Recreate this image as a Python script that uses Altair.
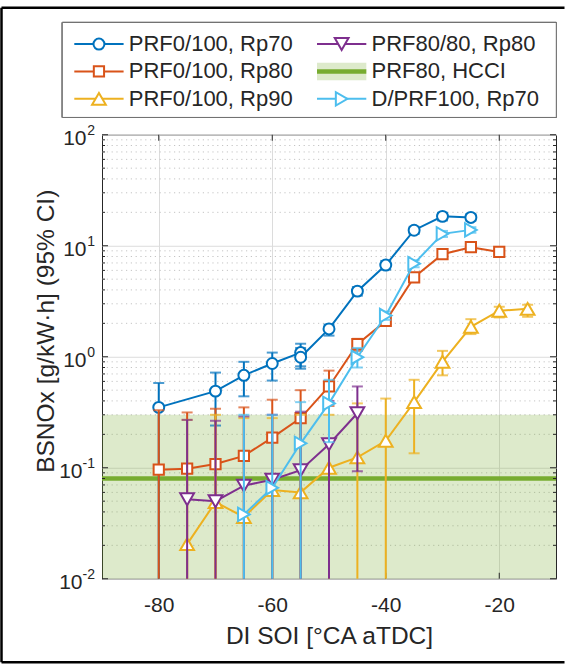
import altair as alt
import pandas as pd

# ---------------- data ----------------
SERIES = ["PRF0/100, Rp70", "PRF0/100, Rp80", "PRF0/100, Rp90",
          "PRF80/80, Rp80", "PRF80, HCCI", "D/PRF100, Rp70"]

RP70_X = [-80, -70, -65, -60, -55, -55, -50, -45, -40, -35, -30, -25]
RP70_Y = [0.35, 0.49, 0.68, 0.87, 1.09, 0.99, 1.78, 3.9, 6.7, 13.8, 18.4, 18.0]
RP70_LO = [None, 0.24, 0.44, 0.61, 0.78, 0.82, 1.55, 3.55, 6.1, 12.8, 16.9, 16.8]
RP70_HI = [0.58, 0.72, 0.90, 1.09, 1.31, 1.20, 1.95, 4.25, 7.3, 14.8, 19.8, 19.3]

RP80_X = [-80, -75, -70, -65, -60, -55, -50, -45, -40, -35, -30, -25, -20]
RP80_Y = [0.096, 0.098, 0.108, 0.128, 0.187, 0.28, 0.54, 1.3, 2.1, 5.2, 8.4, 9.7, 8.8]
RP80_LO = [None, None, None, None, None, None, 0.36, 1.13, 1.95, 4.9, 8.0, 9.3, 8.4]
RP80_HI = [0.33, 0.315, 0.34, 0.35, 0.41, 0.50, 0.75, 1.45, 2.3, 5.5, 8.8, 10.2, 9.2]

RP90_X = [-75, -70, -65, -60, -55, -50, -45, -40, -35, -30, -25, -20, -15]
RP90_Y = [0.0205, 0.049, 0.036, 0.063, 0.060, 0.10, 0.124, 0.175, 0.39, 0.90, 1.86, 2.6, 2.7]
RP90_LO = [None, None, None, None, None, None, None, None, 0.135, 0.68, 1.6, 2.26, 2.29]
RP90_HI = [0.27, 0.30, 0.28, 0.28, 0.30, 0.30, 0.38, 0.42, 0.62, 1.13, 2.18, 2.82, 2.94]

PRF80_X = [-75, -70, -65, -60, -55, -50, -45]
PRF80_Y = [0.052, 0.050, 0.069, 0.078, 0.095, 0.163, 0.31]
PRF80_LO = [None, None, None, None, None, None, 0.093]
PRF80_HI = [0.27, 0.265, 0.29, 0.30, 0.32, 0.40, 0.54]

DPRF_X = [-65, -60, -55, -50, -45, -40, -35, -30, -25]
DPRF_Y = [0.038, 0.066, 0.166, 0.38, 0.99, 2.35, 6.9, 12.8, 13.9]
DPRF_LO = [None, None, None, 0.17, 0.80, 2.15, 6.4, 12.0, 13.1]
DPRF_HI = [0.30, 0.30, 0.39, 0.62, 1.2, 2.55, 7.4, 13.6, 14.7]

HCCI_VALUE = 0.08
HCCI_UPPER = 0.30

X_TICKS = [-80, -60, -40, -20]
Y_DECADES = [0.01, 0.1, 1, 10, 100]
Y_EXPONENTS = ["-2", "-1", "0", "1", "2"]

X_DOMAIN = [-90, -10]
Y_DOMAIN = [0.01, 100]

# ---------------- styling ----------------
W, H = 454, 444
TXT = "#262626"
FONT = "Liberation Sans"
COLORS = {
    "PRF0/100, Rp70": "#0072BD",
    "PRF0/100, Rp80": "#D95319",
    "PRF0/100, Rp90": "#EDB120",
    "PRF80/80, Rp80": "#7E2F8E",
    "PRF80, HCCI": "#77AC30",
    "D/PRF100, Rp70": "#4DBEEE",
}
SHAPES = {
    "PRF0/100, Rp70": ("circle", 120),
    "PRF0/100, Rp80": ("square", 105),
    "PRF0/100, Rp90": ("triangle-up", 190),
    "PRF80/80, Rp80": ("triangle-down", 190),
    "D/PRF100, Rp70": ("triangle-right", 180),
}

xs = alt.Scale(domain=X_DOMAIN, nice=False, zero=False)
ys = alt.Scale(type="log", domain=Y_DOMAIN, nice=False)

x_axis = alt.Axis(values=X_TICKS, title="DI SOI [°CA aTDC]", grid=True,
                  gridColor="#dcdcdc", gridWidth=1, ticks=False, tickSize=0,
                  domain=False, labelFontSize=21, labelColor=TXT, labelFont=FONT,
                  labelPadding=16,
                  labelExpr="datum.value < 0 ? '-' + abs(datum.value) : '' + datum.value",
                  titleFontSize=24.5, titleFont=FONT,
                  titleFontWeight="normal", titleColor=TXT,
                  titleBaseline="alphabetic", titleY=65)
y_axis = alt.Axis(values=Y_DECADES, labels=False, ticks=False, tickSize=0,
                  domain=False, grid=True, gridColor="#dcdcdc", gridWidth=1,
                  title="BSNOx [g/kW·h] (95% CI)", titleFontSize=24.5,
                  titleFont=FONT, titleFontWeight="normal", titleColor=TXT,
                  titleX=-49, titleY=196, titleAlign="center",
                  titleBaseline="alphabetic", titleAngle=270)


def X(field="x"):
    return alt.X(f"{field}:Q", scale=xs, axis=x_axis)


def Y(field="y"):
    return alt.Y(f"{field}:Q", scale=ys, axis=y_axis)


layers = []

# minor dotted grid (log minor positions)
minor_vals = [k * d for d in [0.01, 0.1, 1, 10] for k in range(2, 10)]
minor_df = pd.DataFrame({"v": minor_vals})
layers.append(alt.Chart(minor_df).mark_rule(color="#c4c4c4", strokeWidth=1,
                                              strokeDash=[1.2, 3.6]).encode(
    y=Y("v"), x=alt.value(0), x2=alt.value(W)))

# HCCI band + line
band_df = pd.DataFrame({"x": [X_DOMAIN[0]], "x2": [X_DOMAIN[1]],
                        "lo": [Y_DOMAIN[0]], "hi": [HCCI_UPPER], "v": [HCCI_VALUE]})
layers.append(alt.Chart(band_df).mark_rect(color=COLORS["PRF80, HCCI"], opacity=0.25).encode(
    x=X("x"), x2="x2:Q", y=Y("lo"), y2="hi:Q"))
layers.append(alt.Chart(band_df).mark_rule(color=COLORS["PRF80, HCCI"], strokeWidth=4.5).encode(
    x=X("x"), x2="x2:Q", y=Y("v")))

# inward ticks on the box
maj_df = pd.DataFrame({"v": Y_DECADES})
for x0, x1 in [(0, 6), (W, W - 6)]:
    layers.append(alt.Chart(maj_df).mark_rule(color=TXT, strokeWidth=1).encode(
        y=Y("v"), x=alt.value(x0), x2=alt.value(x1)))
for x0, x1 in [(0, 3), (W, W - 3)]:
    layers.append(alt.Chart(minor_df).mark_rule(color=TXT, strokeWidth=1).encode(
        y=Y("v"), x=alt.value(x0), x2=alt.value(x1)))
xt_df = pd.DataFrame({"v": X_TICKS})
for y0, y1 in [(H, H - 6), (0, 6)]:
    layers.append(alt.Chart(xt_df).mark_rule(color=TXT, strokeWidth=1).encode(
        x=X("v"), y=alt.value(y0), y2=alt.value(y1)))

# y tick labels as 10 with superscript exponent
lab_df = pd.DataFrame({"v": Y_DECADES, "exp": Y_EXPONENTS})
lab_df["bx"] = [-7 - (12.5 if e.startswith("-") else 8.5) for e in Y_EXPONENTS]
layers.append(alt.Chart(lab_df).mark_text(align="right", baseline="middle", fontSize=21,
                                            font=FONT, color=TXT, dy=4).encode(
    x=alt.X("bx:Q", scale=None, axis=None), y=Y("v"), text=alt.value("10")))
layers.append(alt.Chart(lab_df).mark_text(align="right", baseline="middle", fontSize=14,
                                            font=FONT, color=TXT, dy=-4).encode(
    x=alt.value(-7), y=Y("v"), text="exp:N"))

# data series
SPEC = [
    ("PRF0/100, Rp70", RP70_X, RP70_Y, RP70_LO, RP70_HI),
    ("PRF0/100, Rp80", RP80_X, RP80_Y, RP80_LO, RP80_HI),
    ("PRF0/100, Rp90", RP90_X, RP90_Y, RP90_LO, RP90_HI),
    ("PRF80/80, Rp80", PRF80_X, PRF80_Y, PRF80_LO, PRF80_HI),
    ("D/PRF100, Rp70", DPRF_X, DPRF_Y, DPRF_LO, DPRF_HI),
]
rows = []
for name, sx, sy, slo, shi in SPEC:
    for i, (a, b, l, h) in enumerate(zip(sx, sy, slo, shi)):
        rows.append(dict(series=name, i=i, x=a, y=b,
                         lo=(l if l is not None else Y_DOMAIN[0]), hi=h,
                         has_lo=(l is not None)))
df = pd.DataFrame(rows)

for name, *_ in SPEC:
    c = COLORS[name]
    shp, sz = SHAPES[name]
    base = alt.Chart(df).transform_filter(alt.datum.series == name)
    layers.append(base.mark_rule(color=c, strokeWidth=2).encode(
        x=X("x"), y=Y("lo"), y2="hi:Q"))
    layers.append(base.mark_tick(color=c, orient="horizontal", size=11, thickness=2).encode(
        x=X("x"), y=Y("hi")))
    layers.append(base.transform_filter("datum.has_lo").mark_tick(
        color=c, orient="horizontal", size=11, thickness=2).encode(x=X("x"), y=Y("lo")))
    layers.append(base.mark_line(color=c, strokeWidth=2).encode(
        x=X("x"), y=Y("y"), order=alt.Order("i:Q")))
    layers.append(base.mark_point(shape=shp, size=sz, filled=True, fill="white", stroke=c,
                                  strokeWidth=2, opacity=1).encode(x=X("x"), y=Y("y")))

# ---------------- legend (drawn manually above the plot) ----------------
COL_X0 = [-27.7, 215.0]
ROW_Y = [-90.7, -63.3, -35.9]
LINE_LEN = 49.3
leg_rows = []
for k, name in enumerate(SERIES):
    col, row = k // 3, k % 3
    x0 = COL_X0[col]
    shp, sz = SHAPES.get(name, ("circle", 0))
    leg_rows.append(dict(label=name, color=COLORS[name], shape=shp, size=sz,
                         lx1=x0, lx2=x0 + LINE_LEN, lxm=x0 + LINE_LEN / 2,
                         lxt=x0 + 54.5, ly=ROW_Y[row],
                         sw=(4.5 if name == "PRF80, HCCI" else 2)))
leg_df = pd.DataFrame(leg_rows)

layers.append(alt.Chart(leg_df).mark_rect(fill="white", stroke="#6e6e6e", strokeWidth=1).encode(
    x=alt.value(-39.7), x2=alt.value(454.3), y=alt.value(-112.3), y2=alt.value(-17.3)))
hc = leg_df[leg_df.label == "PRF80, HCCI"]
layers.append(alt.Chart(hc).mark_rect(color=COLORS["PRF80, HCCI"], opacity=0.25).encode(
    x=alt.X("lx1:Q", scale=None, axis=None), x2="lx2:Q",
    y=alt.value(ROW_Y[1] - 8.8), y2=alt.value(ROW_Y[1] + 8.8)))
layers.append(alt.Chart(leg_df).mark_rule(strokeCap="butt").encode(
    x=alt.X("lx1:Q", scale=None, axis=None), x2="lx2:Q",
    y=alt.Y("ly:Q", scale=None, axis=None),
    color=alt.Color("color:N", scale=None),
    strokeWidth=alt.StrokeWidth("sw:Q", scale=None)))
layers.append(alt.Chart(leg_df[leg_df.label != "PRF80, HCCI"]).mark_point(
    filled=True, fill="white", strokeWidth=2, opacity=1).encode(
    x=alt.X("lxm:Q", scale=None, axis=None), y=alt.Y("ly:Q", scale=None, axis=None),
    shape=alt.Shape("shape:N", scale=None), stroke=alt.Stroke("color:N", scale=None),
    size=alt.Size("size:Q", scale=None)))
layers.append(alt.Chart(leg_df).mark_text(align="left", baseline="middle", fontSize=22,
                                            font=FONT, color=TXT).encode(
    x=alt.X("lxt:Q", scale=None, axis=None), y=alt.Y("ly:Q", scale=None, axis=None),
    text="label:N"))

# ---------------- figure frame ----------------
FL, FT, FB, FR = -100.5, -127.0, 527.5, 462.5
frame_df = pd.DataFrame({"k": [0]})
layers.append(alt.Chart(frame_df).mark_rule(color="black", strokeWidth=2.5).encode(
    x=alt.value(FL), y=alt.value(FT), y2=alt.value(FB)))
layers.append(alt.Chart(frame_df).mark_rule(color="black", strokeWidth=2.5).encode(
    x=alt.value(FL), x2=alt.value(FR), y=alt.value(FT)))
layers.append(alt.Chart(frame_df).mark_rule(color="black", strokeWidth=2.5).encode(
    x=alt.value(FL), x2=alt.value(FR), y=alt.value(FB)))

chart = alt.layer(*layers).properties(
    width=W, height=H,
    padding={"left": 0, "top": 5.75, "right": 0, "bottom": 0},
).configure(font=FONT).configure_view(stroke=TXT, strokeWidth=1)

chart.save("out.html", embed_options={"renderer": "svg", "actions": False})
